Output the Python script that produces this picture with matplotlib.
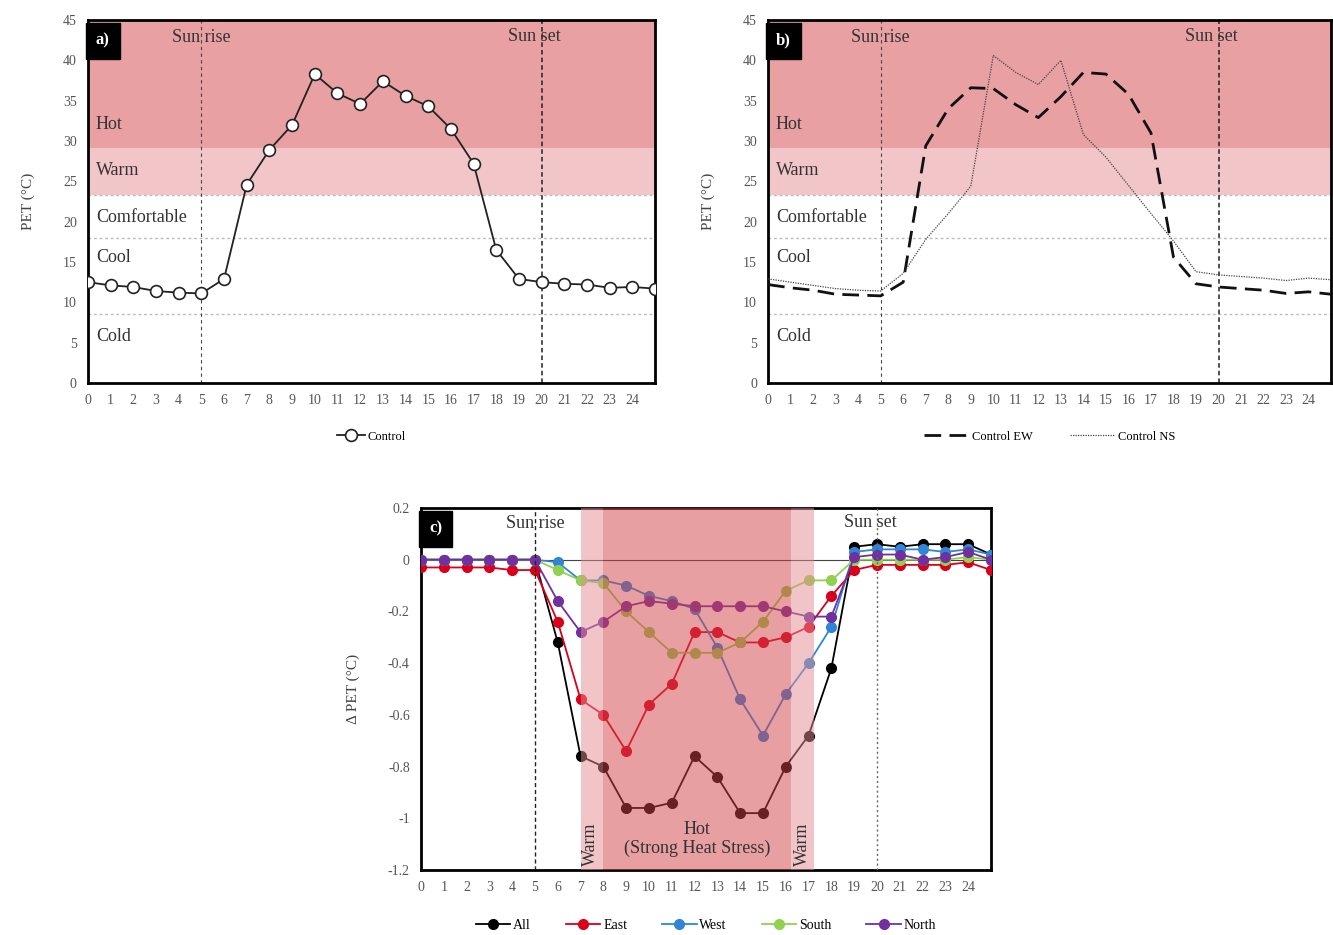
import matplotlib
matplotlib.use('Agg')
from matplotlib import pyplot as plt

plt.rcParams['font.family'] = ['Liberation Serif', 'DejaVu Serif']

hours = list(range(26))
hour_labels = [str(h) for h in range(25)] + ['']

control = [12.5, 12.1, 11.9, 11.4, 11.2, 11.1, 12.9, 24.6, 28.9, 32.0, 38.3, 35.9, 34.6,
           37.4, 35.6, 34.3, 31.5, 27.2, 16.5, 12.9, 12.5, 12.3, 12.2, 11.8, 11.9, 11.7]
control_ew = [12.2, 11.8, 11.5, 11.0, 10.9, 10.8, 12.5, 29.4, 34.0, 36.6, 36.5, 34.5, 32.9,
              35.5, 38.5, 38.3, 35.8, 31.0, 15.6, 12.3, 11.9, 11.7, 11.5, 11.1, 11.3, 11.0]
control_ns = [12.9, 12.5, 12.1, 11.7, 11.5, 11.4, 13.6, 17.8, 21.0, 24.4, 40.6, 38.5, 37.0,
              40.0, 30.8, 28.0, 24.5, 21.0, 17.6, 13.8, 13.4, 13.2, 13.0, 12.7, 13.0, 12.8]

d_all = [0, 0, 0, 0, 0, 0, -0.32, -0.76, -0.80, -0.96, -0.96, -0.94, -0.76,
         -0.84, -0.98, -0.98, -0.80, -0.68, -0.42, 0.05, 0.06, 0.05, 0.06, 0.06, 0.06, 0.02]
d_east = [-0.03, -0.03, -0.03, -0.03, -0.04, -0.04, -0.24, -0.54, -0.60, -0.74, -0.56, -0.48, -0.28,
          -0.28, -0.32, -0.32, -0.30, -0.26, -0.14, -0.04, -0.02, -0.02, -0.02, -0.02, -0.01, -0.04]
d_west = [0, 0, 0, 0, 0, 0, -0.01, -0.08, -0.08, -0.10, -0.14, -0.16, -0.19,
          -0.34, -0.54, -0.68, -0.52, -0.40, -0.26, 0.03, 0.04, 0.04, 0.04, 0.03, 0.04, 0.02]
d_south = [0, 0, 0, 0, 0, 0, -0.04, -0.08, -0.09, -0.20, -0.28, -0.36, -0.36,
           -0.36, -0.32, -0.24, -0.12, -0.08, -0.08, 0.0, 0.0, 0.0, 0.0, 0.0, 0.01, 0.0]
d_north = [0, 0, 0, 0, 0, 0, -0.16, -0.28, -0.24, -0.18, -0.16, -0.17, -0.18,
           -0.18, -0.18, -0.18, -0.20, -0.22, -0.22, 0.01, 0.02, 0.02, 0.0, 0.01, 0.03, 0.0]

pet_ticks = list(range(0, 50, 5))
dpet_ticks = [0.2, 0, -0.2, -0.4, -0.6, -0.8, -1, -1.2]
dpet_labels = ['0.2', '0', '-0.2', '-0.4', '-0.6', '-0.8', '-1', '-1.2']

# comfort zones (PET, °C)
zones = [('Hot', 32.0), ('Warm', 26.4), ('Comfortable', 20.5), ('Cool', 15.5), ('Cold', 5.8)]
hot_low, warm_low, cool_top, cold_top = 29.1, 23.3, 18.0, 8.5
sunrise, sunset = 5, 20

series_c = [('All', d_all, 'black'), ('East', d_east, '#d9001b'), ('West', d_west, '#2f86d6'),
            ('South', d_south, '#92d050'), ('North', d_north, '#7030a0')]

HOT = '#e8a0a3'
WARM = '#f2c6c9'
TXT = '#333333'


def style_axes(ax, ylim, yticks, ylabels, ylabel):
    ax.set_xlim(0, 25)
    ax.set_ylim(*ylim)
    ax.set_xticks(hours, hour_labels)
    ax.set_yticks(yticks, ylabels)
    ax.tick_params(length=0, labelsize=10, colors='#555555', pad=8)
    for s in ax.spines.values():
        s.set_linewidth(2)
    ax.set_ylabel(ylabel, fontsize=11, color='#444444', labelpad=20)


def panel_label(ax, txt):
    ax.text(0.014, 0.965, txt, transform=ax.transAxes, ha='left', va='top', color='white',
            fontsize=12, fontweight='bold', zorder=10,
            bbox=dict(boxstyle='square,pad=0.6', fc='black', ec='black'))


def pet_background(ax):
    ax.axhspan(hot_low, 45, color=HOT, lw=0, zorder=0)
    ax.axhspan(warm_low, hot_low, color=WARM, lw=0, zorder=0)
    for y in (warm_low, cool_top, cold_top):
        ax.axhline(y, color='#bbbbbb', ls=(0, (2, 2)), lw=1, zorder=1)
    for name, y in zones:
        ax.text(0.35, y, name, fontsize=13, color=TXT, va='center', zorder=2)
    ax.axvline(sunrise, color='#444444', ls=(0, (3, 3)), lw=0.8, zorder=1)
    ax.axvline(sunset, color='#222222', ls=(0, (3, 2)), lw=1.1, zorder=1)
    ax.text(sunrise, 42.8, 'Sun rise', fontsize=13, color=TXT, ha='center', va='center', zorder=2)
    ax.text(sunset - 0.3, 42.9, 'Sun set', fontsize=13, color=TXT, ha='center', va='center', zorder=2)


fig = plt.figure(figsize=(13.33, 9.35), dpi=100)

# a) Control
ax1 = fig.add_axes([0.066, 0.5904, 0.4254, 0.3882])
pet_background(ax1)
ax1.plot(hours, control, color='#222222', lw=1.3, marker='o', ms=8.5, mfc='white', mec='#222222',
         mew=1.2, label='Control', zorder=5)
style_axes(ax1, (0, 45), pet_ticks, [str(t) for t in pet_ticks], 'PET (°C)')
panel_label(ax1, 'a)')
ax1.legend(loc='upper center', bbox_to_anchor=(0.5, -0.1), frameon=False, fontsize=9,
           handlelength=2.2, handletextpad=0.2)

# b) Control EW / NS
ax2 = fig.add_axes([0.5762, 0.5904, 0.4224, 0.3882])
pet_background(ax2)
ax2.plot(hours, control_ew, color='#111111', lw=2, ls=(0, (6, 3)), label='Control EW', zorder=5)
ax2.plot(hours, control_ns, color='#444444', lw=0.9, ls=(0, (1, 1)), label='Control NS', zorder=5)
style_axes(ax2, (0, 45), pet_ticks, [str(t) for t in pet_ticks], 'PET (°C)')
panel_label(ax2, 'b)')
ax2.legend(loc='upper center', bbox_to_anchor=(0.5, -0.1), frameon=False, fontsize=9, ncol=2,
           handlelength=3.5, handletextpad=0.3, columnspacing=3)

# c) Delta PET
ax3 = fig.add_axes([0.3158, 0.0695, 0.4276, 0.3872])
ax3.axhline(0, color='#444444', lw=0.8, zorder=1)
for name, vals, col in series_c:
    ax3.plot(hours, vals, color=col, lw=1.3, marker='o', ms=7, mfc=col, mec=col, label=name, zorder=3)
# semi-transparent comfort bands drawn over the lines
ax3.axvspan(7, 8, color='#e58d93', alpha=0.5, lw=0, zorder=4)
ax3.axvspan(8, 16.25, color='#d14147', alpha=0.5, lw=0, zorder=4)
ax3.axvspan(16.25, 17.25, color='#e58d93', alpha=0.5, lw=0, zorder=4)
ax3.axvline(sunrise, color='#222222', ls=(0, (3, 2)), lw=1, zorder=5)
ax3.axvline(sunset, color='#666666', ls=(0, (1.5, 2)), lw=1, zorder=5)
ax3.text(sunrise, 0.14, 'Sun rise', fontsize=13, color=TXT, ha='center', va='center', zorder=6)
ax3.text(sunset - 0.3, 0.145, 'Sun set', fontsize=13, color=TXT, ha='center', va='center', zorder=6)
ax3.text(12.1, -1.08, 'Hot\n(Strong Heat Stress)', fontsize=13, color=TXT, ha='center',
         va='center', linespacing=1.1, zorder=6)
ax3.text(7.45, -1.1, 'Warm', fontsize=13, color=TXT, rotation=90, ha='center', va='center', zorder=6)
ax3.text(16.75, -1.1, 'Warm', fontsize=13, color=TXT, rotation=90, ha='center', va='center', zorder=6)
style_axes(ax3, (-1.2, 0.2), dpet_ticks, dpet_labels, 'Δ PET (°C)')
panel_label(ax3, 'c)')
ax3.legend(loc='upper center', bbox_to_anchor=(0.5, -0.1), frameon=False, fontsize=10, ncol=5,
           handlelength=2.5, handletextpad=0.2, columnspacing=2.5)

fig.savefig('out.png', dpi=100)
plt.close()
